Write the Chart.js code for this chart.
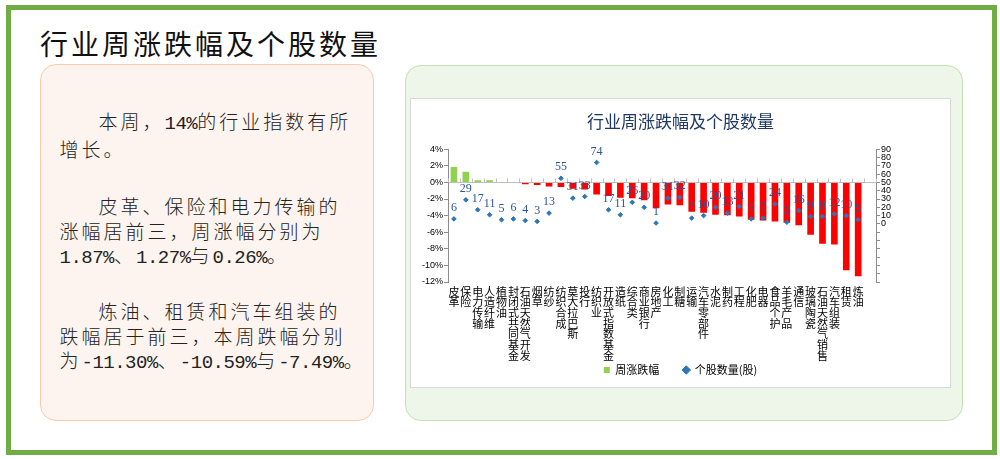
<!doctype html>
<html lang="zh-cn">
<head>
<meta charset="utf-8">
<title>行业周涨跌幅及个股数量</title>
<script src="https://cdn.jsdelivr.net/npm/chart.js@4.4.1/dist/chart.umd.min.js"></script>
<style>
    body { margin: 0; width: 1000px; height: 459px; background: #fff; position: relative; overflow: hidden; font-family: "Noto Sans CJK SC", sans-serif; }
    .frame { position: absolute; left: 6px; top: 5px; width: 991px; height: 450px; box-sizing: border-box; border: 5px solid #70ad47; }
    .page-title { position: absolute; left: 40px; top: 26px; font-size: 28px; line-height: 34px; letter-spacing: 3px; color: #111; white-space: nowrap; }
    .note { position: absolute; left: 40px; top: 64px; width: 334px; height: 357px; box-sizing: border-box; background: #fdf4ef; border: 1.5px solid #f8cbad; border-radius: 16px; }
    .note p { position: absolute; left: 18.5px; margin: 0; font-size: 19px; line-height: 24.5px; letter-spacing: 3px; white-space: nowrap; color: #222; text-indent: 39px; font-weight: 300; }
    .note .num { font-family: "Liberation Mono", monospace; font-size: 19px; letter-spacing: -0.5px; }
    .panel { position: absolute; left: 405px; top: 65px; width: 558px; height: 356px; box-sizing: border-box; background: #eef6e9; border: 1.5px solid #c5e0b4; border-radius: 16px; }
    .chartbox { position: absolute; left: 410px; top: 98px; width: 541px; height: 290px; box-sizing: border-box; background: #fff; border: 1px solid #d9d9d9; }
    #chart { position: absolute; left: 410px; top: 98px; }
</style>
</head>
<body>
<div class="frame"></div>
<div class="page-title">行业周涨跌幅及个股数量</div>

<div class="note">
    <p style="top:44px">本周，<span class="num">14%</span>的行业指数有所<br>增长。</p>
    <p style="top:129px">皮革、保险和电力传输的<br>涨幅居前三，周涨幅分别为<br><span class="num">1.87%</span>、<span class="num">1.27%</span>与<span class="num">0.26%</span>。</p>
    <p style="top:234px">炼油、租赁和汽车组装的<br>跌幅居于前三，本周跌幅分别<br>为<span class="num">-11.30%</span>、<span class="num">-10.59%</span>与<span class="num">-7.49%</span>。</p>
</div>

<div class="panel"></div>
<div class="chartbox"></div>
<canvas id="chart" width="541" height="290"></canvas>

<script>
// 行业
var categories = ['皮革', '保险', '电力传输', '人造纤维', '植物油', '封闭式共同基金', '石油天然气开发', '烟草',
    '纺纱', '纺织合成', '莫大拉巴斯', '投行', '纺织业', '开放式指数基金', '造纸', '综合类', '商业银行', '房地产',
    '化工', '制糖', '运输', '汽车零部件', '水泥', '制药', '工程', '化肥', '电器', '食品个护', '羊毛产品', '通信',
    '玻璃陶瓷', '石油天然气销售', '汽车组装', '租赁', '炼油'];

// 周涨跌幅 (%)
var weeklyChange = [1.87, 1.27, 0.26, 0.25, 0.02, -0.08, -0.22, -0.32, -0.5, -0.55, -0.75, -0.85, -1.45,
    -1.65, -1.85, -1.9, -2.15, -3.1, -2.65, -2.75, -3.55, -3.65, -3.9, -3.95, -4.1, -4.5, -4.6, -4.7, -4.85,
    -5.15, -6.3, -7.4, -7.49, -10.59, -11.3];

// 个股数量 (股)
var stockCounts = [6, 29, 17, 11, 5, 6, 4, 3, 13, 55, 31, 33, 74, 17, 11, 26, 20, 1, 31, 32, 7, 10, 20, 13,
    21, 6, 7, 24, 2, 16, 9, 9, 12, 10, 5];

// 轴刻度
var leftTicks = { min: -12, max: 4, step: 2 };
var rightTicks = { min: -70, max: 90, step: 10 };

// 竖排标签, 末尾留一个空类目
var labels = categories.map(function(s) { return s.split(''); });
labels.push('');

var countLabels = {
    id: 'countLabels',
    afterDatasetsDraw: function(chart) {
        var meta = chart.getDatasetMeta(1);
        var ctx = chart.ctx;
        ctx.save();
        ctx.font = '12px "Liberation Serif"';
        ctx.fillStyle = '#2f5496';
        ctx.textAlign = 'center';
        ctx.textBaseline = 'middle';
        meta.data.forEach(function(pt, i) {
            ctx.fillText(stockCounts[i], pt.x, pt.y - 11);
        });
        ctx.restore();
    }
};

var zeroTicks = {
    id: 'zeroTicks',
    beforeDatasetsDraw: function(chart) {
        var ctx = chart.ctx, area = chart.chartArea;
        var y0 = Math.round(chart.scales.y.getPixelForValue(0)) + 0.5;
        var n = labels.length;
        var step = area.width / n;
        ctx.save();
        ctx.strokeStyle = '#bfbfbf';
        ctx.lineWidth = 1;
        ctx.beginPath();
        for (var i = 0; i <= n; i++) {
            var x = Math.round(area.left + i * step) + 0.5;
            ctx.moveTo(x, y0 - 4);
            ctx.lineTo(x, y0);
        }
        ctx.stroke();
        ctx.restore();
    }
};

new Chart(document.getElementById('chart'), {
    type: 'bar',
    data: {
        labels: labels,
        datasets: [{
            type: 'bar',
            label: '周涨跌幅',
            data: weeklyChange,
            yAxisID: 'y',
            backgroundColor: weeklyChange.map(function(v) { return v >= 0 ? '#92d050' : '#ff0000'; }),
            borderWidth: 0,
            barPercentage: 0.56,
            categoryPercentage: 1,
            pointStyle: 'rect',
            order: 2
        }, {
            type: 'line',
            label: '个股数量(股)',
            data: stockCounts,
            yAxisID: 'y1',
            showLine: false,
            pointStyle: 'rectRot',
            pointRadius: 2.3,
            pointBackgroundColor: '#2e75b6',
            pointBorderColor: '#2e75b6',
            borderColor: '#2e75b6',
            backgroundColor: '#2e75b6',
            order: 1
        }]
    },
    options: {
        responsive: false,
        animation: false,
        layout: { padding: { top: 0, right: 0, bottom: 2.5, left: 0 } },
        plugins: {
            title: {
                display: true,
                text: '行业周涨跌幅及个股数量',
                color: '#1f3864',
                font: { family: '"Noto Sans CJK SC"', size: 17, weight: 'normal' },
                padding: { top: 13, bottom: 17.8 }
            },
            legend: {
                position: 'bottom',
                labels: {
                    usePointStyle: true,
                    boxWidth: 6,
                    boxHeight: 6,
                    padding: 2,
                    color: '#000',
                    font: { family: '"Noto Sans CJK SC"', size: 11 },
                    sort: function(a, b) { return a.datasetIndex - b.datasetIndex; },
                    generateLabels: function(chart) {
                        var items = Chart.defaults.plugins.legend.labels.generateLabels(chart);
                        items.forEach(function(it) {
                            if (it.datasetIndex === 0) it.text += '\u3000\u3000';
                        });
                        return items;
                    }
                }
            },
            tooltip: { enabled: false }
        },
        scales: {
            x: {
                grid: { display: false, drawTicks: false },
                border: { display: false },
                ticks: {
                    autoSkip: false, maxRotation: 0, minRotation: 0, padding: 4, color: '#000',
                    font: { family: '"Noto Sans CJK SC"', size: 11, lineHeight: 0.97 }
                },
                afterFit: function(s) { s.height = 80.5; }
            },
            y: {
                position: 'left',
                min: leftTicks.min, max: leftTicks.max,
                ticks: {
                    stepSize: leftTicks.step, padding: 1, color: '#000',
                    font: { family: '"Liberation Sans"', size: 9 },
                    callback: function(v) { return v + '%'; }
                },
                grid: {
                    color: function(c) { return c.tick && c.tick.value === 0 ? '#bfbfbf' : 'rgba(0,0,0,0)'; },
                    tickColor: '#8c8c8c', tickLength: 4
                },
                border: { color: '#8c8c8c' },
                afterFit: function(s) { s.width = 38; }
            },
            y1: {
                position: 'right',
                min: rightTicks.min, max: rightTicks.max,
                ticks: {
                    stepSize: rightTicks.step, autoSkip: false, padding: 1, color: '#000',
                    font: { family: '"Liberation Sans"', size: 9 },
                    callback: function(v) { return v >= 0 ? v : ''; }
                },
                grid: { drawOnChartArea: false, tickColor: '#8c8c8c', tickLength: 4 },
                border: { color: '#8c8c8c' },
                afterFit: function(s) { s.width = 75; }
            }
        }
    },
    plugins: [zeroTicks, countLabels]
});
</script>
</body>
</html>
